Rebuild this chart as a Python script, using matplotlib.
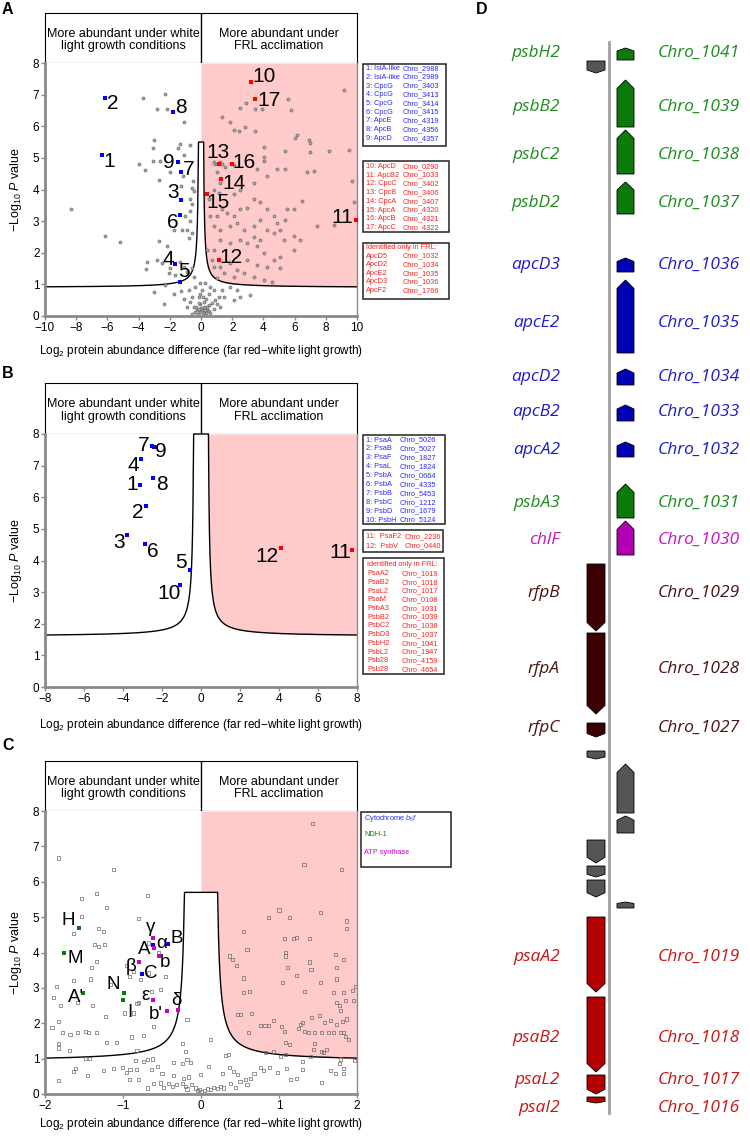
import numpy as np
import matplotlib
matplotlib.use("Agg")
import matplotlib.pyplot as plt
from matplotlib.patches import Rectangle, Polygon

plt.rcParams['font.family'] = ['Liberation Sans', 'DejaVu Sans']
plt.rcParams['mathtext.fontset'] = 'custom'
plt.rcParams['mathtext.rm'] = 'Liberation Sans'
plt.rcParams['mathtext.it'] = 'Liberation Sans:italic'

# ---------------- data ----------------
# Panel A: background proteins (log2 diff, -log10 P)
a_bg = [
    (9.15, 7.15), (-3.72, 6.9), (-2.31, 7.03), (-2.82, 6.56), (-2.18, 6.56), (-1.11, 6.14),
    (1.35, 6.3), (1.88, 6.14), (2.48, 6.58), (2.9, 6.72), (3.49, 6.56), (3.91, 6.56),
    (5.56, 6.85), (5.8, 6.5), (2.1, 5.87), (2.42, 5.84), (2.85, 5.98), (3.44, 5.84),
    (6.05, 5.63), (6.16, 5.72), (6.9, 5.56), (7.0, 5.48), (-3.0, 5.56), (-3.08, 5.3),
    (-1.33, 5.45), (-0.68, 5.42), (-1.48, 5.32), (-1.07, 5.1), (4.02, 5.35), (5.37, 5.22),
    (7.0, 5.19), (8.19, 5.22), (9.48, 5.26), (-4.0, 4.8), (-2.6, 4.9), (4.02, 5.03),
    (1.35, 4.82), (1.56, 4.72), (0.92, 4.82),
    (-8.34, 3.38), (-6.14, 2.52), (-5.18, 2.34), (-3.62, 4.62), (-3.08, 4.91), (-2.72, 4.3),
    (-1.97, 4.54), (-1.16, 4.44), (-0.51, 4.28), (-0.58, 4.06), (-0.47, 3.96), (-1.26, 4.12),
    (-0.73, 3.69), (-0.58, 3.53), (-0.68, 3.32), (-1.05, 3.16), (-0.68, 3.0), (-0.9, 2.73),
    (-0.58, 2.63), (-0.79, 2.47), (-1.22, 2.73), (-1.75, 2.73), (-2.72, 2.36), (-2.18, 2.2),
    (-3.47, 1.72), (-3.51, 1.49), (-2.82, 1.78), (-2.5, 1.67), (-1.97, 1.51), (-2.07, 1.35),
    (-1.65, 1.3), (-1.33, 1.72), (-1.11, 1.56), (-0.9, 1.4), (-0.58, 1.51), (-0.47, 1.24),
    (-2.29, 0.98), (-3.04, 0.77), (-1.75, 0.71), (-2.4, 0.37), (-1.11, 0.55), (-0.79, 0.82),
    (-0.68, 0.45), (-0.47, 0.29), (-0.26, 0.18), (-0.09, 0.13), (0.06, 0.18), (0.21, 0.11),
    (0.38, 0.2), (-0.04, 0.37), (0.17, 0.29), (0.49, 0.34), (-0.15, 0.61), (0.06, 0.82),
    (-0.04, 1.03), (0.28, 1.05), (0.49, 0.71), (0.81, 0.82), (1.13, 0.61), (1.35, 0.82),
    (1.88, 0.93), (2.31, 0.82), (2.52, 0.61), (3.17, 0.66), (2.1, 0.5), (1.03, 0.39),
    (0.81, 0.23), (0.6, 0.93), (-0.36, 0.93),
    (-0.2, 0.05), (0.1, 0.03), (0.3, 0.08), (-0.4, 0.12), (0.5, 0.15), (0.0, 0.25),
    (-0.1, 0.4), (0.2, 0.45), (0.4, 0.3), (-0.3, 0.3), (0.15, 0.6), (-0.05, 0.7),
    (0.35, 0.55), (0.7, 0.4), (-0.6, 0.6), (0.9, 0.5), (1.2, 0.3), (1.5, 0.6),
    (-0.9, 0.3), (-1.3, 0.8), (0.25, 0.2), (-0.15, 0.22), (0.6, 0.1), (-0.55, 0.05),
    (0.81, 4.86), (1.24, 4.86), (2.1, 4.76), (1.24, 4.22), (1.03, 4.54), (0.81, 4.0),
    (1.13, 3.9), (2.1, 3.85), (2.52, 4.0), (3.38, 4.22), (4.02, 4.91), (3.59, 4.65),
    (4.24, 4.44), (4.88, 4.65), (5.41, 4.65), (6.8, 4.54), (7.23, 4.6), (9.69, 4.28),
    (9.8, 3.59), (6.48, 3.64), (5.95, 3.37), (5.41, 3.05), (4.88, 2.95), (4.24, 3.37),
    (3.81, 3.59), (3.38, 3.69), (2.95, 3.43), (2.52, 3.37), (2.1, 3.16), (1.67, 3.27),
    (1.35, 3.37), (1.03, 3.16), (0.81, 2.84), (1.24, 2.73), (1.88, 2.84), (2.31, 2.95),
    (2.74, 2.73), (3.38, 2.84), (3.81, 3.05), (4.24, 2.73), (4.66, 2.63), (5.3, 2.41),
    (5.95, 2.52), (7.44, 2.84), (8.51, 2.89), (5.95, 2.1), (5.09, 1.88), (4.66, 1.78),
    (4.02, 1.99), (3.59, 2.2), (2.95, 2.31), (2.52, 2.41), (1.88, 2.31), (1.24, 2.41),
    (0.81, 2.1), (0.71, 1.78), (1.24, 1.56), (1.88, 1.67), (2.31, 1.46), (2.95, 1.78),
    (3.59, 1.62), (4.24, 1.56), (5.09, 1.51), (3.38, 1.24), (4.02, 1.14), (4.56, 1.09),
    (2.74, 1.35), (2.1, 1.24), (1.45, 1.35), (1.03, 1.19), (0.81, 1.56), (0.38, 2.1),
    (0.6, 3.16), (0.49, 3.69), (4.66, 3.16), (5.09, 2.73), (3.38, 2.5), (3.81, 2.41),
    (6.37, 2.41), (5.52, 3.37),
]
a_blue_id = ['1', '2', '3', '4', '5', '6', '7', '8', '9']
a_blue_x = [-6.35, -6.18, -1.3, -1.65, -1.37, -1.37, -1.26, -1.8, -1.48]
a_blue_y = [5.1, 6.9, 3.67, 1.64, 1.06, 3.18, 4.56, 6.44, 4.88]
a_red_id = ['10', '11', '12', '13', '14', '15', '16', '17']
a_red_x = [3.21, 9.93, 1.13, 1.18, 1.28, 0.41, 1.97, 3.44]
a_red_y = [7.39, 3.04, 1.76, 4.82, 4.33, 3.85, 4.81, 6.87]

a_legend_blue = [('1: IsiA-like', 'Chro_2988'), ('2: IsiA-like', 'Chro_2989'), ('3: CpcG', 'Chro_3403'),
                 ('4: CpcG', 'Chro_3413'), ('5: CpcG', 'Chro_3414'), ('6: CpcG', 'Chro_3415'),
                 ('7: ApcE', 'Chro_4319'), ('8: ApcB', 'Chro_4356'), ('9: ApcD', 'Chro_4357')]
a_legend_red = [('10: ApcD', 'Chro_0290'), ('11: ApcB2', 'Chro_1033'), ('12: CpcC', 'Chro_3402'),
                ('13: CpcB', 'Chro_3406'), ('14: CpcA', 'Chro_3407'), ('15: ApcA', 'Chro_4320'),
                ('16: ApcB', 'Chro_4321'), ('17: ApcC', 'Chro_4322')]
a_legend_frl = [('Identified only in FRL:', ''), ('ApcD5', 'Chro_1032'), ('ApcD2', 'Chro_1034'),
                ('ApcE2', 'Chro_1035'), ('ApcD3', 'Chro_1036'), ('ApcF2', 'Chro_1766')]

# Panel B: photosystem subunits
b_blue_id = ['1', '2', '3', '4', '5', '6', '7', '8', '9', '10']
b_blue_x = [-3.15, -2.83, -3.8, -3.08, -0.58, -2.89, -2.52, -2.47, -2.4, -1.06]
b_blue_y = [6.39, 5.72, 4.8, 7.22, 3.71, 4.52, 7.63, 6.62, 7.59, 3.24]
b_red_id = ['11', '12']
b_red_x = [7.72, 4.11]
b_red_y = [4.32, 4.41]

b_legend_blue = [('1: PsaA', 'Chro_5026'), ('2: PsaB', 'Chro_5027'), ('3: PsaF', 'Chro_1827'),
                 ('4: PsaL', 'Chro_1824'), ('5: PsbA', 'Chro_0664'), ('6: PsbA', 'Chro_4335'),
                 ('7: PsbB', 'Chro_5453'), ('8: PsbC', 'Chro_1212'), ('9: PsbD', 'Chro_1679'),
                 ('10: PsbH', 'Chro_5124')]
b_legend_red = [('11:  PsaF2', 'Chro_2236'), ('12:  PsbV', 'Chro_0440')]
b_legend_frl = [('Identified only in FRL:', ''), ('PsaA2', 'Chro_1019'), ('PsaB2', 'Chro_1018'),
                ('PsaL2', 'Chro_1017'), ('PsaM', 'Chro_0108'), ('PsbA3', 'Chro_1031'),
                ('PsbB2', 'Chro_1039'), ('PsbC2', 'Chro_1038'), ('PsbD3', 'Chro_1037'),
                ('PsbH2', 'Chro_1041'), ('PsbL2', 'Chro_1947'), ('Psb28', 'Chro_4159'),
                ('Psb28', 'Chro_4654')]

# Panel C: background + complexes
c_bg = [
    (1.43, 7.64), (-1.83, 6.67), (-1.12, 6.35), (1.32, 6.5), (1.8, 6.35),
    (-1.34, 5.66), (-0.69, 5.61), (-1.53, 5.52), (-1.21, 5.26), (-1.53, 5.01), (-1.64, 4.54),
    (-1.31, 4.68), (-1.25, 4.6), (-1.37, 4.23), (-1.31, 4.16), (-1.24, 4.23), (-0.8, 4.95),
    (-0.67, 4.27), (-0.54, 4.01), (-1.34, 3.75), (-1.4, 3.57), (-0.95, 3.64), (-0.92, 3.33),
    (-0.86, 3.47), (-0.78, 3.24), (-0.45, 3.33), (-0.67, 3.42), (-1.42, 3.25), (-1.63, 3.21),
    (-1.85, 3.05), (-1.89, 2.72), (-1.8, 2.5), (-1.58, 2.58), (-1.39, 2.5), (-1.16, 3.09),
    (-0.82, 2.55), (-0.8, 2.59), (-0.63, 2.9), (-0.52, 2.95), (-0.98, 2.29), (-0.87, 2.29),
    (-1.22, 2.18), (-1.91, 1.87), (-1.83, 2.04), (-1.78, 1.75), (-1.68, 1.68), (-1.58, 1.73),
    (-1.48, 1.77), (-1.44, 1.75), (-1.34, 1.73), (-1.21, 1.46), (-1.08, 1.46), (-0.89, 1.61),
    (-0.74, 1.65), (-0.61, 1.92), (-1.83, 1.42), (-1.83, 1.3), (-1.69, 1.23), (-1.48, 1.0),
    (-1.43, 1.0), (-0.82, 1.23), (-1.61, 0.71), (-1.64, 0.64), (-1.46, 0.53), (-1.83, 0.39),
    (-1.25, 0.67), (-1.12, 0.71), (-1.01, 0.74), (-0.96, 0.61), (-0.91, 0.69), (-0.84, 0.94),
    (-0.83, 0.69), (-0.74, 0.92), (-0.69, 0.97), (-0.62, 0.99), (-0.56, 0.78), (-0.35, 0.9),
    (-0.24, 0.86), (-0.18, 0.97), (-0.13, 0.88), (-0.2, 1.19), (-0.24, 1.44), (-0.18, 2.1),
    (0.12, 1.54), (-0.22, 0.45), (-0.16, 0.48), (-0.35, 0.53), (-0.5, 0.59), (-0.63, 0.69),
    (-0.92, 0.41), (-0.8, 0.41), (-0.69, 0.17), (-0.61, 0.29), (-0.52, 0.31), (-0.48, 0.19),
    (-0.42, 0.29), (-0.37, 0.22), (-0.31, 0.28), (-0.24, 0.29), (-0.2, 0.22), (-0.18, 0.14),
    (-0.12, 0.28), (-0.07, 0.17), (-0.05, 0.09), (-0.02, 0.12), (0.01, 0.08), (0.04, 0.1),
    (0.08, 0.14), (0.12, 0.12), (0.16, 0.19), (0.21, 0.15), (0.25, 0.22), (0.29, 0.17),
    (0.38, 0.29), (0.44, 0.19), (0.5, 0.36), (0.57, 0.41), (0.63, 0.45), (0.59, 0.26),
    (0.47, 0.55), (0.42, 0.64), (0.36, 0.74), (0.31, 1.08), (0.35, 1.11), (0.27, 0.59),
    (0.1, 0.78), (-0.01, 0.55), (0.68, 0.59), (0.76, 0.74), (0.8, 0.66), (0.88, 0.76),
    (0.98, 0.62), (1.1, 0.71), (1.15, 0.41), (1.23, 0.45), (1.3, 0.69), (1.3, 0.92),
    (1.4, 1.07), (1.55, 0.33), (1.66, 0.67), (1.72, 0.59), (1.83, 0.59), (1.83, 0.72),
    (1.77, 0.86), (1.79, 0.99), (1.97, 0.94), (0.83, 1.18), (0.93, 1.21), (1.02, 1.07),
    (1.08, 1.11), (1.44, 1.25), (1.57, 1.18),
    (0.36, 3.9), (0.4, 3.8), (0.46, 3.63), (0.54, 4.6), (0.59, 4.08), (0.54, 3.28),
    (0.54, 2.86), (0.62, 2.91), (0.47, 2.25), (0.51, 2.25), (0.65, 2.27), (0.76, 1.94),
    (0.82, 1.93), (0.61, 1.75), (1.0, 5.2), (0.87, 5.0), (1.13, 5.0), (1.07, 4.39),
    (1.19, 4.39), (1.23, 4.43), (1.39, 4.39), (1.53, 5.12), (1.08, 3.99), (1.08, 3.9),
    (1.11, 3.57), (1.22, 3.36), (1.04, 3.16), (1.39, 3.73), (1.41, 3.52), (1.53, 3.16),
    (1.33, 2.91), (1.72, 3.94), (1.83, 3.8), (1.74, 3.57), (1.74, 3.25), (1.87, 4.89),
    (1.87, 4.68), (1.98, 3.03), (1.94, 2.92), (1.96, 2.65), (1.85, 2.64), (1.83, 2.86),
    (1.7, 2.88), (1.74, 2.59), (1.77, 2.51), (1.79, 2.37), (1.87, 2.12), (1.89, 1.54),
    (1.74, 1.96), (1.81, 2.06), (1.66, 2.08), (1.58, 2.01), (1.52, 2.22), (1.42, 2.15),
    (1.3, 2.03), (1.27, 1.96), (1.33, 1.77), (1.38, 1.75), (1.45, 1.75), (1.55, 1.75),
    (1.64, 1.73), (1.7, 1.75), (1.79, 1.75), (1.83, 1.75), (1.85, 1.63), (1.45, 1.44),
    (1.55, 1.21), (1.07, 1.77), (0.93, 2.08), (1.03, 1.92), (1.25, 1.86), (0.87, 1.93),
    (1.08, 1.46), (1.14, 1.4), (1.61, 1.25),
]
c_ndh_id = ['H', 'M', "A'", 'N', 'I']
c_ndh_x = [-1.57, -1.76, -1.51, -0.99, -1.0]
c_ndh_y = [4.7, 3.99, 2.86, 2.86, 2.67]
c_cyt_id = ['A', 'B', 'C']
c_cyt_x = [-0.62, -0.42, -0.76]
c_cyt_y = [4.21, 4.25, 3.38]
c_atp_id = ['\u03b3', '\u03b1', 'b', '\u03b2', '\u03b5', "b'", '\u03b4']
c_atp_x = [-0.62, -0.6, -0.54, -0.8, -0.61, -0.44, -0.3]
c_atp_y = [4.4, 4.13, 3.9, 3.73, 2.65, 2.34, 2.37]

# Panel D: FaRLiP gene cluster (map positions, strand)
gene_name = ['psbH2', '', 'psbB2', 'psbC2', 'psbD2', 'apcD3', 'apcE2', 'apcD2', 'apcB2', 'apcA2',
             'psbA3', 'chlF', 'rfpB', 'rfpA', 'rfpC', '', '', '', '', '', '', '',
             'psaA2', 'psaB2', 'psaL2', 'psaI2']
gene_id = ['Chro_1041', '', 'Chro_1039', 'Chro_1038', 'Chro_1037', 'Chro_1036', 'Chro_1035',
           'Chro_1034', 'Chro_1033', 'Chro_1032', 'Chro_1031', 'Chro_1030', 'Chro_1029',
           'Chro_1028', 'Chro_1027', '', '', '', '', '', '', '',
           'Chro_1019', 'Chro_1018', 'Chro_1017', 'Chro_1016']
gene_strand = [1, -1, 1, 1, 1, 1, 1, 1, 1, 1, 1, 1, -1, -1, -1, -1, 1, 1, -1, -1, -1, 1,
               -1, -1, -1, -1]
gene_start = [48, 61, 80, 130, 182, 258, 280, 369, 405, 442, 484, 521, 564, 633, 723, 751,
              764, 816, 840, 866, 880, 902, 917, 997, 1075, 1097]
gene_end = [60, 73, 127, 174, 214, 272, 353, 385, 421, 457, 518, 555, 631, 714, 737, 759,
            813, 833, 863, 877, 897, 908, 992, 1072, 1094, 1103]
gene_group = ['psII', 'other', 'psII', 'psII', 'psII', 'apc', 'apc', 'apc', 'apc', 'apc',
              'psII', 'chlF', 'rfp', 'rfp', 'rfp', 'other', 'other', 'other', 'other', 'other',
              'other', 'other', 'psI', 'psI', 'psI', 'psI']

# ---------------- styles ----------------
W, H = 750, 1136
PINK = '#ffcaca'
AXGRAY = '#8a8a8a'
LEG_FS = 5.3
fill_col = {'psII': '#0b7a0b', 'apc': '#0000b4', 'chlF': '#b400b4', 'rfp': '#3c0000',
            'psI': '#b40000', 'other': '#555555'}
text_col = {'psII': '#1f8a1f', 'apc': '#1c1ccc', 'chlF': '#c414c4', 'rfp': '#4a1212',
            'psI': '#c81414', 'other': '#555555'}
label_y = [53, 0, 107, 155, 203, 265, 323, 377, 412, 450, 503, 540, 593, 669, 728, 0, 0, 0,
           0, 0, 0, 0, 957, 1038, 1080, 1108]

fig = plt.figure(figsize=(W / 100, H / 100), dpi=100)


def rect(x0, y0, x1, y1):
    return [x0 / W, 1 - y1 / H, (x1 - x0) / W, (y1 - y0) / H]


def cutoff(x, y0, c, x0, top):
    d = np.abs(x) - x0
    y = np.where(d > 0, y0 + c / np.maximum(d, 1e-9), top)
    return np.minimum(y, top)


def volcano(main, head, xlim, xticks, cut, xpad):
    hx = fig.add_axes(head)
    hx.set_xlim(xlim)
    hx.set_ylim(0, 1)
    hx.set_xticks([])
    hx.set_yticks([])
    hx.axvline(0, color='black', lw=1)
    hx.text(xlim[0] / 2, 0.46, 'More abundant under white\nlight growth conditions',
            ha='center', va='center', fontsize=9, linespacing=1.1)
    hx.text(xlim[1] / 2, 0.46, 'More abundant under\nFRL acclimation',
            ha='center', va='center', fontsize=9, linespacing=1.1)

    ax = fig.add_axes(main)
    ax.set_xlim(xlim)
    ax.set_ylim(0, 8)
    xs = np.linspace(xlim[0], xlim[1], 8001)
    ys = cutoff(xs, *cut)
    pos = xs >= 0
    ax.fill_between(xs[pos], ys[pos], 8, color=PINK, lw=0, zorder=0)
    ax.plot(xs, ys, color='black', lw=1, zorder=1, clip_on=False)
    ax.set_xticks(xticks)
    ax.set_yticks(range(0, 9))
    ax.spines['top'].set_visible(False)
    for s in ['left', 'bottom']:
        ax.spines[s].set_color(AXGRAY)
        ax.spines[s].set_linewidth(2)
    ax.spines['right'].set_color(AXGRAY)
    ax.spines['right'].set_linewidth(1)
    ax.tick_params(direction='out', length=3, width=1, color=AXGRAY, labelsize=8.5, pad=1)
    ax.set_ylabel('\u2212Log$_{10}$ $P$ value', fontsize=9, labelpad=6)
    ax.set_xlabel('Log$_2$ protein abundance difference (far red\u2212white light growth)',
                  fontsize=8.5, labelpad=xpad)
    return ax


def mark(ax, ids, xs, ys, offs, color, fs, size=7):
    ax.scatter(xs, ys, s=size, marker='s', color=color, lw=0, zorder=4)
    for t, x, y, (dx, dy) in zip(ids, xs, ys, offs):
        ax.annotate(t, (x, y), xytext=(dx * 0.72, -dy * 0.72), textcoords='offset points',
                    ha='center', va='center', fontsize=fs, zorder=5)


# ---------------- panel A ----------------
axA = volcano(rect(45, 63, 357, 316), rect(45, 13, 357, 63), (-10, 10), range(-10, 11, 2),
              (0.9, 0.23, 0.12, 5.5), 7)
bg = np.array(a_bg)
axA.scatter(bg[:, 0], bg[:, 1], s=5, marker='o', facecolor='#a8a8a8', edgecolor='#5c5c5c',
            lw=0.4, zorder=2)
mark(axA, a_blue_id, a_blue_x, a_blue_y,
     [(7.3, 6.7), (8.3, 6), (-7.7, -7.3), (-7.3, -5), (4, -10.7), (-7.3, 6.7), (7.3, -2.7),
      (8.3, -4.7), (-9.3, 0.7)], '#0000ff', 15)
mark(axA, a_red_id, a_red_x, a_red_y,
     [(12.7, -6), (-13.7, -2), (12.7, -3.3), (-1.7, -10.7), (12.7, 4.3), (10.3, 8.3),
      (12, -1), (14, 1.7)], '#ff0000', 15)

# ---------------- panel B ----------------
axB = volcano(rect(45, 434, 357, 687), rect(45, 383, 357, 434), (-8, 8), range(-8, 9, 2),
              (1.6, 0.34, 0.33, 8), 9)
mark(axB, b_blue_id, b_blue_x, b_blue_y,
     [(-7.7, 0), (-8.3, 6.7), (-7.7, 7.3), (-7.3, 7), (-8.7, -6.7), (8, 7.7), (-7.7, 0),
      (9, 7.3), (7, 4.3), (-11.7, 9)], '#0000ff', 15, size=5)
mark(axB, b_red_id, b_red_x, b_red_y, [(-11, 2.3), (-14, 9.3)], '#ff0000', 15, size=5)

# ---------------- panel C ----------------
axC = volcano(rect(45, 811, 357, 1094), rect(45, 761, 357, 811), (-2, 2), range(-2, 3),
              (0.93, 0.153, 0.181, 5.7), 3)
bg = np.array(c_bg)
axC.scatter(bg[:, 0], bg[:, 1], s=5, marker='s', facecolor='none', edgecolor='#6a6a6a',
            lw=0.5, zorder=2)
mark(axC, c_ndh_id, c_ndh_x, c_ndh_y,
     [(-10, -7.3), (11.7, 6), (-7.7, 5), (-11, -8.3), (6.7, 13.3)], '#008000', 13.5, size=6)
mark(axC, c_cyt_id, c_cyt_x, c_cyt_y, [(-8.7, 4.3), (8.3, -5.3), (9, -1)], '#0000ff', 13.5,
     size=6)
mark(axC, c_atp_id, c_atp_x, c_atp_y,
     [(-2, -10.7), (7.7, -4), (5.7, 6.7), (-7.7, 4.7), (-8.3, -5), (-10.7, 3.3), (-1.3, -9.3)],
     '#cc00cc', 13.5, size=6)

# ---------------- overlay: panel letters and legend boxes ----------------
ov = fig.add_axes([0, 0, 1, 1])
ov.set_xlim(0, W)
ov.set_ylim(H, 0)
ov.axis('off')

for letter, (x, y) in zip('ABCD', [(7.5, 10), (7.5, 374), (8, 745), (482, 10)]):
    ov.text(x, y, letter, fontsize=11.5, fontweight='bold', ha='center', va='center')


def legend_box(x0, y0, x1, y1, rows, color, c1, c2, first, step):
    ov.add_patch(Rectangle((x0, y0), x1 - x0, y1 - y0, fill=False, ec='#222222', lw=1.1))
    for i, (a, b) in enumerate(rows):
        y = first + i * step
        ov.text(c1, y, a, color=color, fontsize=LEG_FS, ha='left', va='center')
        if b:
            ov.text(c2, y, b, color=color, fontsize=LEG_FS, ha='left', va='center')


legend_box(363, 64, 446, 146, a_legend_blue, '#2a2aff', 365.5, 403, 68.5, 8.75)
legend_box(363, 161, 449, 232, a_legend_red, '#ff2020', 365.5, 403, 166.5, 8.7)
legend_box(363, 243, 449, 299, a_legend_frl, '#ff2020', 366, 403, 247.5, 8.6)
legend_box(363, 435, 445, 524, b_legend_blue, '#2a2aff', 366.5, 400, 440, 8.9)
legend_box(363, 530, 443, 552, b_legend_red, '#ff2020', 366, 405, 537, 9)
legend_box(363, 558, 444, 674, b_legend_frl, '#ff2020', 367, 402, 565, 8.7)

ov.add_patch(Rectangle((361, 812), 90, 55, fill=False, ec='#222222', lw=1.1))
ov.text(364, 818, 'Cytochrome $b_6f$', color='#2a2aff', fontsize=LEG_FS, va='center')
ov.text(364, 835, 'NDH-1', color='#008000', fontsize=LEG_FS, va='center')
ov.text(364, 853, 'ATP synthase', color='#cc00cc', fontsize=LEG_FS, va='center')

# ---------------- panel D: gene map ----------------
dx = fig.add_axes(rect(460, 0, 750, 1136))
dx.set_xlim(460, 750)
dx.set_ylim(H, 0)
dx.axis('off')
dx.plot([609, 609], [42, 1113], color='#a0a0a0', lw=2, zorder=1)

lane = {1: (617, 634), -1: (587, 605)}
for name, gid, st, g0, g1, grp, ly in zip(gene_name, gene_id, gene_strand, gene_start,
                                          gene_end, gene_group, label_y):
    xa, xb = lane[st]
    xc = (xa + xb) / 2
    tip = min(8.5, 0.25 * (g1 - g0))
    if st == 1:
        pts = [(xa, g1), (xb, g1), (xb, g0 + tip), (xc, g0), (xa, g0 + tip)]
    else:
        pts = [(xa, g0), (xb, g0), (xb, g1 - tip), (xc, g1), (xa, g1 - tip)]
    dx.add_patch(Polygon(pts, closed=True, fc=fill_col[grp], ec='black', lw=0.6, zorder=2))
    if name:
        dx.text(560, ly, name, ha='right', va='center', fontsize=12.5, style='italic',
                family=['Open Sans', 'DejaVu Sans'], color=text_col[grp])
        dx.text(658, ly, gid, ha='left', va='center', fontsize=12.5, style='italic',
                family=['Open Sans', 'DejaVu Sans'], color=text_col[grp])

fig.savefig('out.png', dpi=100)
